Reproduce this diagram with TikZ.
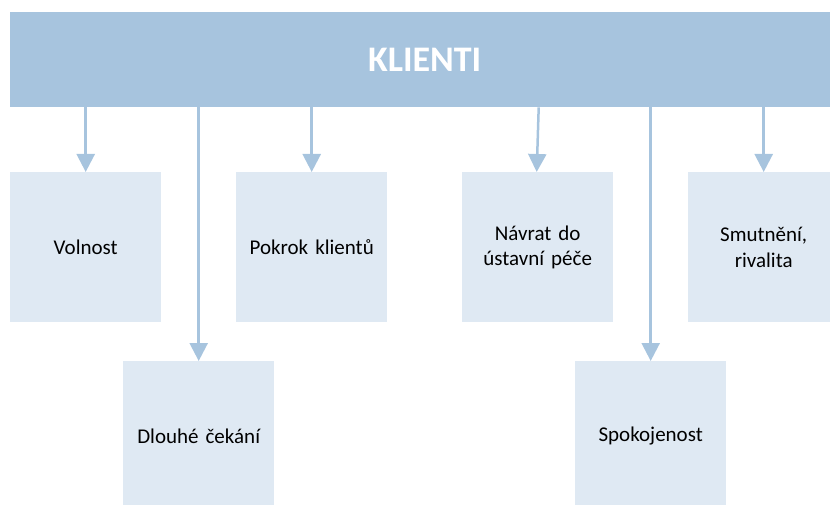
\documentclass[tikz,border=0pt]{standalone}
\usepackage{fontspec}
\setmainfont{Carlito}
\usetikzlibrary{arrows.meta}
\definecolor{headblue}{HTML}{A7C4DE}
\definecolor{boxblue}{HTML}{DFE9F3}
\begin{document}
\begin{tikzpicture}[x=1pt,y=-1pt,
  topic/.style={fill=boxblue, draw=none, minimum width=151pt, minimum height=150pt,
    inner sep=0pt, align=center, text width=145pt, anchor=north west,
    font=\fontsize{21}{25.5}\selectfont},
  link/.style={draw=headblue, line width=2.5pt, -{Triangle[width=18pt,length=18pt]}}]
\useasboundingbox (0,0) rectangle (830,505);
\clip (0,0) rectangle (830,505);
% header bar
\node[fill=headblue, minimum width=829pt, minimum height=95pt, inner sep=0pt,
  anchor=north west, text=white, font=\fontsize{36}{43}\selectfont\bfseries]
  (head) at (10,12) {KLIENTI};
% upper row
\node[topic] (vol) at (10,172)  {Volnost};
\node[topic] (pok) at (236,172) {Pokrok klientů};
\node[topic] (nav) at (462,172) {Návrat do\\ústavní péče};
\node[topic] (smu) at (688,172) {Smutnění,\\rivalita};
% lower row
\node[topic] (dlo) at (123,361) {Dlouhé čekání};
\node[topic] (spo) at (575,361) {Spokojenost};
% connectors
\draw[link] (head.south -| vol.north) -- (vol.north);
\draw[link] (head.south -| dlo.north) -- (dlo.north);
\draw[link] (head.south -| pok.north) -- (pok.north);
\draw[link] ([xshift=1pt]head.south -| nav.north) -- ([xshift=-1pt]nav.north);
\draw[link] (head.south -| spo.north) -- (spo.north);
\draw[link] (head.south -| smu.north) -- (smu.north);
\end{tikzpicture}
\end{document}
